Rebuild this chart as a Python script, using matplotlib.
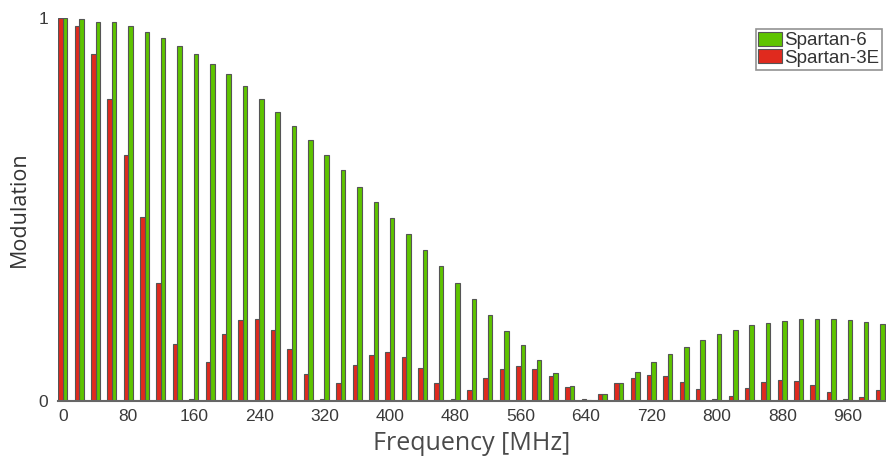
import numpy as np
import matplotlib
matplotlib.use("Agg")
import matplotlib.pyplot as plt

freqs = list(range(0, 1001, 20))
spartan6 = [1.0, 0.998, 0.99, 0.99, 0.979, 0.963, 0.948, 0.927, 0.906, 0.88,
            0.854, 0.822, 0.789, 0.755, 0.718, 0.681, 0.642, 0.603, 0.559, 0.52,
            0.478, 0.436, 0.394, 0.352, 0.308, 0.266, 0.225, 0.183, 0.146, 0.107,
            0.073, 0.039, 0.003, 0.018, 0.047, 0.076, 0.102, 0.123, 0.141, 0.159,
            0.175, 0.185, 0.198, 0.204, 0.209, 0.214, 0.214, 0.214, 0.211, 0.206,
            0.201]
spartan3e = [1.0, 0.979, 0.906, 0.789, 0.642, 0.48, 0.308, 0.149, 0.005, 0.102,
             0.175, 0.211, 0.214, 0.185, 0.136, 0.07, 0.005, 0.047, 0.094, 0.12,
             0.128, 0.115, 0.086, 0.047, 0.005, 0.029, 0.06, 0.084, 0.091, 0.084,
             0.065, 0.037, 0.005, 0.018, 0.047, 0.06, 0.068, 0.065, 0.05, 0.031,
             0.005, 0.013, 0.034, 0.05, 0.055, 0.052, 0.042, 0.023, 0.005, 0.01,
             0.029]
xticks = list(range(0, 961, 80))
series_names = ["Spartan-6", "Spartan-3E"]

fig = plt.figure(figsize=(8.86, 4.58), dpi=100)
ax = fig.add_axes([58/886, 57/458, 828/886, 383/458])

x = np.array(freqs, dtype=float)
w = 5.5
edge = "#555555"
b6 = ax.bar(x + w/2, spartan6, width=w, color="#5EC400", edgecolor=edge,
            linewidth=0.8, label=series_names[0])
b3 = ax.bar(x - w/2, spartan3e, width=w, color="#E02A1E", edgecolor=edge,
            linewidth=0.8, label=series_names[1])

ax.set_xlim(-6, 1007)
ax.set_ylim(0, 1)
ax.set_xticks(xticks)
ax.set_xticklabels([str(t) for t in xticks])
ax.set_yticks([0, 1])
ax.set_yticklabels(["0", "1"])
for s in ["top", "right", "left"]:
    ax.spines[s].set_visible(False)
ax.spines["bottom"].set_color("#666666")
ax.spines["bottom"].set_linewidth(1.5)
ax.tick_params(axis="x", length=0, pad=6, labelsize=12.5, labelcolor="#3a3a3a")
ax.tick_params(axis="y", length=0, pad=7, labelsize=12.5, labelcolor="#3a3a3a")
for lab in ax.get_xticklabels() + ax.get_yticklabels():
    lab.set_family("Liberation Sans")

ax.set_xlabel("Frequency [MHz]", fontsize=18, family="Open Sans", color="#4a4a4a", labelpad=5)
ax.set_ylabel("Modulation", fontsize=15.5, family="Open Sans", color="#333333", labelpad=6)

leg = ax.legend(handles=[b6, b3], loc="upper right", bbox_to_anchor=(0.995, 0.971),
                prop={"family": "Liberation Sans", "size": 13.5}, frameon=True,
                fancybox=False, handlelength=1.28, handleheight=0.75, handletextpad=0.08,
                borderpad=0.15, labelspacing=0.0, borderaxespad=0)
leg.get_frame().set_edgecolor("#777777")
leg.get_frame().set_linewidth(1.2)
for t in leg.get_texts():
    t.set_color("#333333")

fig.savefig("out.png", dpi=100)
